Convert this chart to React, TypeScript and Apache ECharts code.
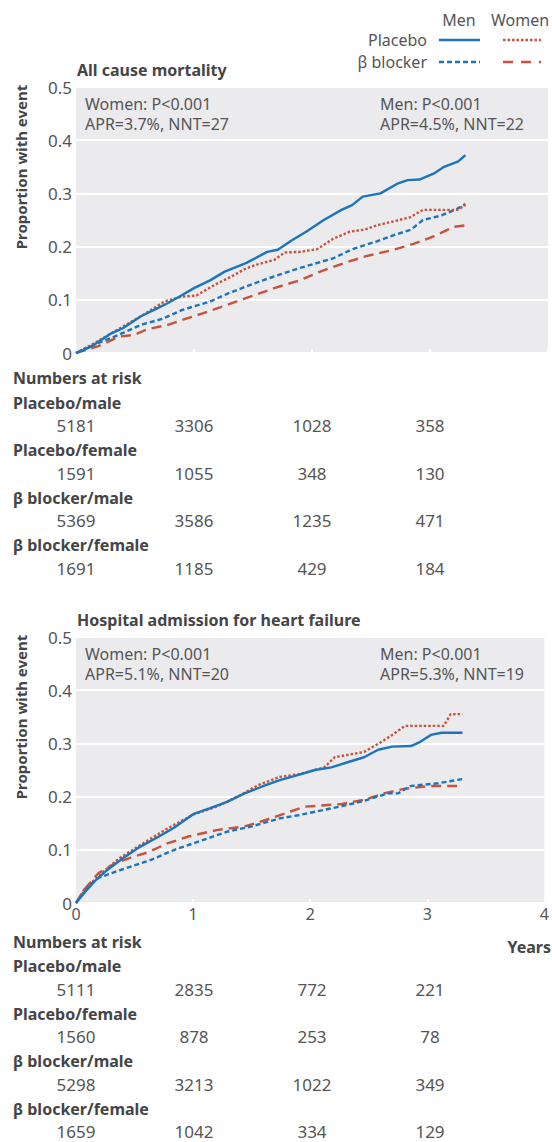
import { useEffect, useRef } from "react";
import * as echarts from "echarts";

// ---------- Data ----------
const yTicks = [0, 0.1, 0.2, 0.3, 0.4, 0.5];
const xTicks = [0, 1, 2, 3, 4];
const riskYears = [0, 1, 2, 3];

// All cause mortality: [years, proportion]
const mortPlaceboMen: [number, number][] = [
  [0, 0], [0.13, 0.012], [0.3, 0.037], [0.4, 0.047], [0.55, 0.069], [0.67, 0.082], [0.78, 0.094],
  [0.9, 0.109], [1.0, 0.122], [1.14, 0.137], [1.26, 0.153], [1.44, 0.169], [1.62, 0.19], [1.71, 0.194],
  [1.83, 0.212], [1.95, 0.228], [2.1, 0.25], [2.25, 0.269], [2.34, 0.278], [2.43, 0.294], [2.58, 0.3],
  [2.73, 0.319], [2.81, 0.325], [2.91, 0.326], [3.03, 0.337], [3.12, 0.35], [3.24, 0.36], [3.3, 0.372],
];
const mortPlaceboWomen: [number, number][] = [
  [0, 0], [0.16, 0.019], [0.4, 0.05], [0.55, 0.069], [0.75, 0.097], [0.9, 0.106], [1.02, 0.108],
  [1.2, 0.131], [1.32, 0.144], [1.44, 0.159], [1.53, 0.166], [1.68, 0.175], [1.77, 0.189], [1.9, 0.19],
  [2.04, 0.195], [2.1, 0.203], [2.18, 0.215], [2.32, 0.228], [2.45, 0.232], [2.55, 0.24], [2.7, 0.248],
  [2.83, 0.255], [2.94, 0.269], [3.23, 0.269], [3.3, 0.278],
];
const mortBetaMen: [number, number][] = [
  [0, 0], [0.19, 0.019], [0.34, 0.032], [0.55, 0.053], [0.73, 0.064], [0.9, 0.081], [1.14, 0.097],
  [1.29, 0.112], [1.5, 0.13], [1.68, 0.144], [1.9, 0.16], [2.18, 0.178], [2.34, 0.195], [2.55, 0.21],
  [2.7, 0.222], [2.84, 0.232], [2.94, 0.25], [3.09, 0.258], [3.23, 0.271], [3.3, 0.28],
];
const mortBetaWomen: [number, number][] = [
  [0, 0], [0.19, 0.013], [0.37, 0.031], [0.49, 0.034], [0.61, 0.045], [0.78, 0.053], [0.9, 0.062],
  [1.08, 0.075], [1.26, 0.089], [1.44, 0.103], [1.68, 0.122], [1.9, 0.137], [2.07, 0.153], [2.27, 0.169],
  [2.46, 0.182], [2.69, 0.194], [2.86, 0.205], [3.03, 0.219], [3.2, 0.237], [3.3, 0.24],
];

// Hospital admission for heart failure
const hfPlaceboMen: [number, number][] = [
  [0, 0], [0.07, 0.019], [0.16, 0.041], [0.25, 0.059], [0.4, 0.084], [0.55, 0.106], [0.7, 0.124],
  [0.84, 0.142], [1.0, 0.167], [1.14, 0.178], [1.29, 0.19], [1.44, 0.206], [1.59, 0.219], [1.74, 0.231],
  [1.9, 0.241], [2.04, 0.25], [2.18, 0.255], [2.34, 0.266], [2.46, 0.274], [2.58, 0.288], [2.7, 0.294],
  [2.86, 0.295], [2.94, 0.303], [3.03, 0.316], [3.12, 0.32], [3.3, 0.32],
];
const hfPlaceboWomen: [number, number][] = [
  [0, 0], [0.07, 0.025], [0.16, 0.044], [0.25, 0.062], [0.37, 0.084], [0.55, 0.109], [0.78, 0.14],
  [1.0, 0.166], [1.2, 0.181], [1.38, 0.2], [1.56, 0.222], [1.74, 0.237], [1.9, 0.242], [2.04, 0.25],
  [2.12, 0.255], [2.21, 0.274], [2.46, 0.284], [2.61, 0.303], [2.7, 0.316], [2.81, 0.333], [3.14, 0.333],
  [3.2, 0.355], [3.3, 0.355],
];
const hfBetaMen: [number, number][] = [
  [0, 0], [0.1, 0.031], [0.19, 0.047], [0.34, 0.059], [0.64, 0.081], [0.84, 0.1], [1.0, 0.112],
  [1.29, 0.134], [1.5, 0.144], [1.74, 0.159], [1.9, 0.165], [2.27, 0.182], [2.46, 0.192], [2.66, 0.206],
  [2.75, 0.206], [2.86, 0.22], [3.09, 0.225], [3.3, 0.233],
];
const hfBetaWomen: [number, number][] = [
  [0, 0], [0.07, 0.025], [0.19, 0.056], [0.34, 0.075], [0.49, 0.087], [0.61, 0.095], [0.78, 0.112],
  [0.96, 0.125], [1.2, 0.137], [1.44, 0.144], [1.62, 0.156], [1.83, 0.172], [1.95, 0.181], [2.27, 0.186],
  [2.46, 0.194], [2.63, 0.206], [2.81, 0.215], [3.03, 0.22], [3.3, 0.22],
];

// Numbers at risk
const riskGroups = ["Placebo/male", "Placebo/female", "β blocker/male", "β blocker/female"];
const mortRiskPlaceboMale = [5181, 3306, 1028, 358];
const mortRiskPlaceboFemale = [1591, 1055, 348, 130];
const mortRiskBetaMale = [5369, 3586, 1235, 471];
const mortRiskBetaFemale = [1691, 1185, 429, 184];
const hfRiskPlaceboMale = [5111, 2835, 772, 221];
const hfRiskPlaceboFemale = [1560, 878, 253, 78];
const hfRiskBetaMale = [5298, 3213, 1022, 349];
const hfRiskBetaFemale = [1659, 1042, 334, 129];

const panelTitles = ["All cause mortality", "Hospital admission for heart failure"];
const womenStats = ["Women: P<0.001", "APR=3.7%, NNT=27", "Women: P<0.001", "APR=5.1%, NNT=20"];
const menStats = ["Men: P<0.001", "APR=4.5%, NNT=22", "Men: P<0.001", "APR=5.3%, NNT=19"];

// ---------- Styles ----------
const FONT = '"Noto Sans", "Open Sans", sans-serif';
const BLUE = "#1B74BE";
const RED = "#C8523C";
const TXT = "#555555";
const BOLD_TXT = "#454545";
const BG = "#EBEBED";

const GRID_LEFT = 76;
const GRID_W = 472;
const GRID_H = 266;
const GRID_TOPS = [87, 637];

const styles = {
  placeboMen: { color: BLUE, type: "solid" as any },
  betaMen: { color: BLUE, type: [5, 3] as any },
  placeboWomen: { color: RED, type: [2.5, 2] as any },
  betaWomen: { color: RED, type: [10, 6] as any },
};

function txt(text: string, x: number, y: number, opts: any = {}) {
  const align = opts.align || "left";
  return {
    type: "text",
    x,
    y,
    rotation: opts.rotation || 0,
    silent: true,
    style: {
      text,
      fill: opts.color || TXT,
      font: `${opts.bold ? "bold " : ""}${opts.size || 16}px ${FONT}`,
      align,
      textAlign: align,
      verticalAlign: "middle",
      textVerticalAlign: "middle",
    },
  };
}

function legendLine(x1: number, x2: number, y: number, color: string, dash: number[] | null) {
  return {
    type: "line",
    silent: true,
    shape: { x1, y1: y, x2, y2: y },
    style: { stroke: color, lineWidth: 2.5, lineDash: dash || undefined },
  };
}

export default function App() {
  const ref = useRef<HTMLDivElement>(null);

  useEffect(() => {
    if (!ref.current) return;
    const chart = echarts.init(ref.current, null, { renderer: "svg" });

    const xPix = (t: number) => GRID_LEFT + (t / 4) * GRID_W;

    const graphics: any[] = [];
    // Legend
    graphics.push(txt("Men", 459, 20, { size: 16, align: "center" }));
    graphics.push(txt("Women", 520, 20, { size: 16, align: "center" }));
    graphics.push(txt("Placebo", 427, 40, { size: 16, align: "right" }));
    graphics.push(txt("β blocker", 427, 62, { size: 16, align: "right" }));
    graphics.push(legendLine(439, 480, 40, BLUE, null));
    graphics.push(legendLine(439, 480, 62, BLUE, [5, 3]));
    graphics.push(legendLine(503, 541, 40, RED, [2.5, 2]));
    graphics.push(legendLine(503, 541, 62, RED, [10, 8]));

    // Panel decorations
    const riskTables = [
      [mortRiskPlaceboMale, mortRiskPlaceboFemale, mortRiskBetaMale, mortRiskBetaFemale],
      [hfRiskPlaceboMale, hfRiskPlaceboFemale, hfRiskBetaMale, hfRiskBetaFemale],
    ];
    const riskStart = [378, 941.5];
    GRID_TOPS.forEach((top, p) => {
      graphics.push(txt(panelTitles[p], 77, top - 17, { bold: true, size: 16, color: BOLD_TXT }));
      graphics.push(
        txt("Proportion with event", 21, top + 80, { bold: true, size: 15, color: BOLD_TXT, rotation: Math.PI / 2, align: "center" })
      );
      graphics.push(txt(womenStats[p * 2], 85, top + 16.5, { size: 16 }));
      graphics.push(txt(womenStats[p * 2 + 1], 85, top + 36.5, { size: 16 }));
      graphics.push(txt(menStats[p * 2], 380, top + 16.5, { size: 16 }));
      graphics.push(txt(menStats[p * 2 + 1], 380, top + 36.5, { size: 16 }));

      const y0 = riskStart[p];
      graphics.push(txt("Numbers at risk", 13, y0, { bold: true, size: 16, color: BOLD_TXT }));
      riskGroups.forEach((g, i) => {
        const ly = y0 + 24.5 + i * 47.5;
        graphics.push(txt(g, 13, ly, { bold: true, size: 16, color: BOLD_TXT }));
        riskTables[p][i].forEach((n, j) => {
          graphics.push(txt(String(n), xPix(riskYears[j]), ly + 23, { size: 17, align: "center" }));
        });
      });
    });
    graphics.push(txt("Years", 551, 947, { bold: true, size: 16, color: BOLD_TXT, align: "right" }));

    const grids = GRID_TOPS.map((top) => ({
      left: GRID_LEFT,
      top,
      width: GRID_W,
      height: GRID_H,
      show: true,
      backgroundColor: BG,
      borderWidth: 0,
      containLabel: false,
    }));

    const xAxes = [0, 1].map((i) => ({
      type: "value",
      gridIndex: i,
      min: xTicks[0],
      max: xTicks[xTicks.length - 1],
      interval: 1,
      axisLine: { show: false },
      axisTick: { show: true, inside: true, length: 4, lineStyle: { color: "#ffffff", width: 2 } },
      splitLine: { show: false },
      axisLabel: {
        show: i === 1,
        color: TXT,
        fontSize: 16,
        fontFamily: FONT,
        margin: 3,
      },
    }));

    const yAxes = [0, 1].map((i) => ({
      type: "value",
      gridIndex: i,
      min: yTicks[0],
      max: yTicks[yTicks.length - 1],
      interval: 0.1,
      axisLine: { show: false },
      axisTick: { show: false },
      splitLine: { show: true, lineStyle: { color: "#ffffff", width: 2 } },
      axisLabel: {
        color: TXT,
        fontSize: 17,
        fontFamily: FONT,
        margin: 4,
        formatter: (v: number) => (Math.abs(v) < 1e-9 ? "0" : v.toFixed(1)),
      },
    }));

    const mk = (name: string, data: [number, number][], idx: number, st: any) => ({
      name,
      type: "line",
      xAxisIndex: idx,
      yAxisIndex: idx,
      data,
      showSymbol: false,
      symbol: "none",
      lineStyle: { color: st.color, width: 2.4, type: st.type, cap: "butt" },
      z: 3,
    });

    const series = [
      mk("β blocker women", mortBetaWomen, 0, styles.betaWomen),
      mk("β blocker men", mortBetaMen, 0, styles.betaMen),
      mk("Placebo women", mortPlaceboWomen, 0, styles.placeboWomen),
      mk("Placebo men", mortPlaceboMen, 0, styles.placeboMen),
      mk("β blocker women", hfBetaWomen, 1, styles.betaWomen),
      mk("β blocker men", hfBetaMen, 1, styles.betaMen),
      mk("Placebo women", hfPlaceboWomen, 1, styles.placeboWomen),
      mk("Placebo men", hfPlaceboMen, 1, styles.placeboMen),
    ];

    chart.setOption({
      animation: false,
      backgroundColor: "#ffffff",
      textStyle: { fontFamily: FONT },
      grid: grids,
      xAxis: xAxes,
      yAxis: yAxes,
      series,
      graphic: { elements: graphics },
    });

    return () => chart.dispose();
  }, []);

  return (
    <div
      ref={ref}
      style={{ position: "absolute", left: 0, top: 0, width: 552, height: 1142, background: "#fff" }}
    />
  );
}
